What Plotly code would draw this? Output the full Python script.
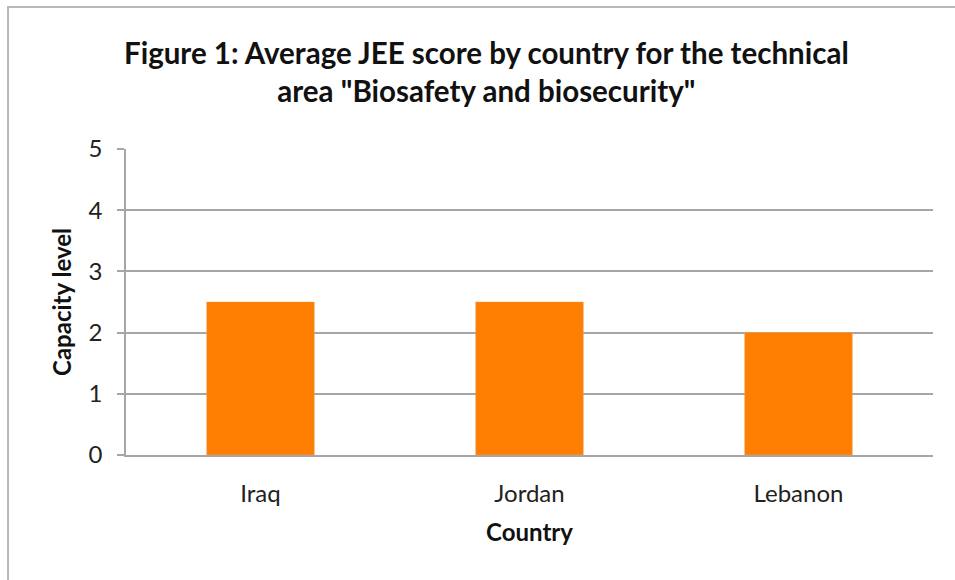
import plotly.graph_objects as go

countries = ["Iraq", "Jordan", "Lebanon"]
scores = [2.5, 2.5, 2.0]
y_ticks = [0, 1, 2, 3, 4, 5]

title_text = "Figure 1: Average JEE score by country for the technical<br>area \"Biosafety and biosecurity\""

FONT = "Lato"
GRID = "#A6A6A6"

fig = go.Figure()
fig.add_trace(go.Bar(
    x=countries, y=scores,
    marker=dict(color="#FD7E00", line=dict(color="#F5A060", width=0.5)),
    width=0.4,
))

fig.update_layout(
    width=955, height=580,
    margin=dict(l=126, r=22, t=149, b=125),
    paper_bgcolor="white", plot_bgcolor="white",
    showlegend=False,
    font=dict(family=FONT, color="#222222"),
    annotations=[dict(
        text="<b>" + title_text + "</b>",
        xref="paper", yref="paper", x=0.447, y=1.254,
        xanchor="center", yanchor="middle", showarrow=False,
        font=dict(family=FONT, size=29.5, color="#111111"),
        align="center",
    )],
    shapes=[dict(
        type="rect", xref="paper", yref="paper",
        x0=-0.1462, x1=1.04, y0=-0.43, y1=1.464,
        line=dict(color="#B8B8B8", width=2), fillcolor="rgba(0,0,0,0)",
        layer="below",
    )],
)

fig.update_yaxes(
    range=[0, 5], tickvals=y_ticks,
    showgrid=True, gridcolor=GRID, gridwidth=1.5,
    showline=True, linecolor=GRID, linewidth=1.5,
    ticks="outside", ticklen=7, tickcolor=GRID, tickwidth=1.5,
    ticklabelstandoff=10,
    tickfont=dict(family=FONT, size=24, color="#222222"),
    title=dict(text="<b>Capacity level</b>", font=dict(family=FONT, size=24, color="#111111"), standoff=10),
    zeroline=False,
)
fig.update_xaxes(
    showline=True, linecolor=GRID, linewidth=1.5,
    ticks="", ticklabelstandoff=16,
    tickfont=dict(family=FONT, size=24, color="#222222"),
    title=dict(text="<b>Country</b>", font=dict(family=FONT, size=24, color="#111111"), standoff=19),
)

fig.write_html("out.html")
